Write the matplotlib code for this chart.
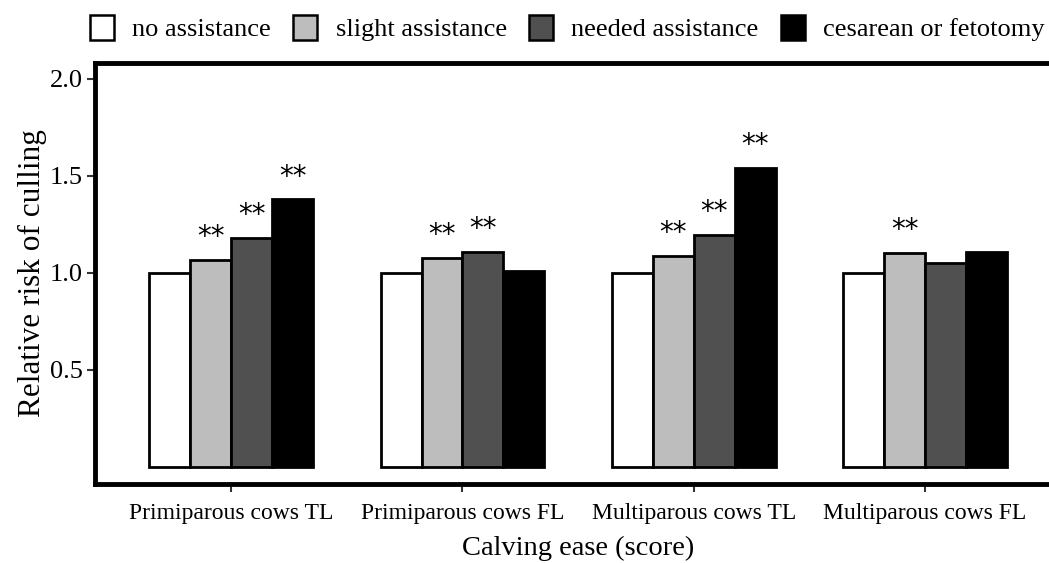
import numpy as np
import matplotlib
matplotlib.use("Agg")
import matplotlib.pyplot as plt
from matplotlib.patches import Patch

groups = ["Primiparous cows TL", "Primiparous cows FL",
          "Multiparous cows TL", "Multiparous cows FL"]
series = ["no assistance", "slight assistance", "needed assistance",
          "cesarean or fetotomy"]
no_assist = [1.00, 1.00, 1.00, 1.00]
slight = [1.067, 1.077, 1.088, 1.103]
needed = [1.18, 1.108, 1.196, 1.052]
cesarean = [1.378, 1.01, 1.54, 1.108]
# significance marks per series (True = "**")
sig_slight = [True, True, True, True]
sig_needed = [True, True, True, False]
sig_cesarean = [True, False, True, False]

colors = ["white", "#bdbdbd", "#505050", "black"]

plt.rcParams["font.family"] = ["Liberation Serif", "DejaVu Serif"]

fig = plt.figure(figsize=(10.49, 5.63), dpi=100)
ax = fig.add_axes([0.0906, 0.1403, 0.921, 0.7478])

x = np.arange(len(groups))
w = 0.177
values = [no_assist, slight, needed, cesarean]
sigs = [[False] * 4, sig_slight, sig_needed, sig_cesarean]
for i, (vals, col, sg) in enumerate(zip(values, colors, sigs)):
    pos = x + (i - 1.5) * w
    ax.bar(pos, vals, width=w, color=col, edgecolor="black", linewidth=2.0,
           label=series[i], zorder=2)
    for p, v, s in zip(pos, vals, sg):
        if s:
            ax.text(p, v + 0.045, "**", ha="center", va="bottom",
                    fontsize=20, family="DejaVu Sans")

ax.set_xlim(-0.589, 3.589)
ax.set_ylim(-0.088, 2.08)
ax.set_yticks([0.5, 1.0, 1.5, 2.0])
ax.set_yticklabels(["0.5", "1.0", "1.5", "2.0"], fontsize=19)
ax.set_xticks(x)
ax.set_xticklabels(groups, fontsize=17)
ax.tick_params(axis="both", direction="out", length=6, width=1.5, color="#333333")
ax.tick_params(axis="x", pad=8)
ax.tick_params(axis="y", pad=3)
for sp in ax.spines.values():
    sp.set_linewidth(3.5)
ax.set_ylabel("Relative risk of culling", fontsize=22.5, labelpad=2)
ax.set_xlabel("Calving ease (score)", fontsize=20.5, labelpad=8)

handles = [Patch(facecolor=c, edgecolor="black", linewidth=1.8) for c in colors]
fig.legend(handles, series, loc="center", bbox_to_anchor=(0.541, 0.95),
           ncol=4, frameon=False, fontsize=19, handlelength=0.9,
           handleheight=1.1, handletextpad=0.7, columnspacing=0.85)

fig.savefig("out.png", dpi=100)
